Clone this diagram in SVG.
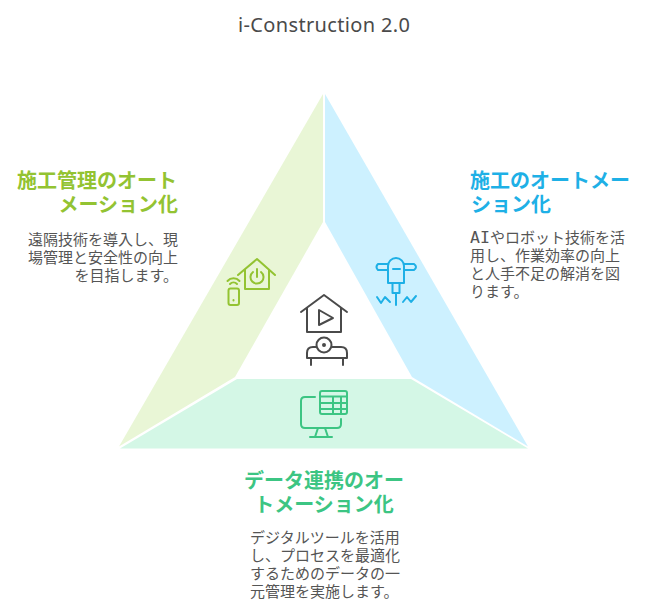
<svg xmlns="http://www.w3.org/2000/svg" width="648" height="612" viewBox="0 0 648 612">
<style>
text{font-family:"Liberation Sans","Noto Sans CJK JP",sans-serif}
.h{font-size:20px;font-weight:700}
.b{font-size:15px;fill:#555}
.t{font-size:20px;fill:#4a4a4a;font-family:"Noto Sans","DejaVu Sans",sans-serif}
.la{font-family:"DejaVu Sans Mono",monospace;font-size:16.5px}
.i{fill:none;stroke-width:2;stroke-linecap:round;stroke-linejoin:round}
.g{stroke:#93c332}.bl{stroke:#1eb0e6}.gr{stroke:#3cc583}.d{stroke:#4a4a4a}
</style>
<rect width="648" height="612" fill="#fff"/>
<text id="title" class="t" x="238" y="32" textLength="172" lengthAdjust="spacing">i-Construction 2.0</text>
<g id="segment-left">
<polygon points="323,94 323,222 235,377 119,446.500" fill="#e9f6d6"/>
<g class="i g"><path d="M238,275 L257,259 L275,275 M245,270 V289 H269 V270"/><path d="M253,272 A6.500,6.500 0 1 0 261,272 M257,269 V277"/><rect x="228.500" y="288.500" width="10.500" height="16.500" rx="2"/><path d="M233.500,300 v0.500 M230,284 a5,5 0 0 1 7,0 M227.500,281 a8,8 0 0 1 12,0"/></g>
<g class="h" fill="#93c332" text-anchor="end"><text x="177" y="188">施工管理のオート</text><text x="178" y="212">メーション化</text></g>
<g class="b" text-anchor="end"><text x="178" y="245">遠隔技術を導入し、現</text><text x="178" y="263">場管理と安全性の向上</text><text x="178" y="281">を目指します。</text></g>
</g>
<g id="segment-right">
<polygon points="325,94 325,222 412,377 528,446.500" fill="#cdf1ff"/>
<g class="i bl"><path d="M388,270 H378 Q375,267 378,264 H388 M404,264 H414 Q418,267 414,270 H404"/><path d="M388,283 V266 A8,8 0 0 1 404,266 V283 Z M393,269 H400"/><path d="M392.500,283 V293 H399.500 V283 M396,293 V305"/><path d="M377,297 L381,303 L385,297 L390,302 M403,302 L407,297 L411,302 L416,296"/></g>
<g class="h" fill="#1eb0e6"><text x="470" y="188">施工のオートメー</text><text x="471" y="212">ション化</text></g>
<g class="b"><text x="470" y="243"><tspan class="la">AI</tspan>やロボット技術を活</text><text x="470" y="261">用し、作業効率の向上</text><text x="470" y="279">と人手不足の解消を図</text><text x="470" y="297">ります。</text></g>
</g>
<g id="segment-bottom">
<polygon points="120,448.500 237,379 411,379 528,448.500" fill="#d4f7e6"/>
<g class="i gr"><path d="M315,397 H305 Q301,397 301,401 V424 Q301,428 305,428 H337 Q341,428 341,424 V419"/><path d="M318,428 L315,437 M325,428 L328,437 M310,437 H332"/><rect x="320" y="391" width="27" height="23" rx="2"/><path d="M320,396.500 H347 M321,403 H347 M321,409 H347 M333,397 V414 M341,397 V414"/></g>
<g class="h" fill="#3cc583" text-anchor="middle"><text x="324" y="488">データ連携のオー</text><text x="324" y="512">トメーション化</text></g>
<g class="b"><text x="250" y="543">デジタルツールを活用</text><text x="250" y="561">し、プロセスを最適化</text><text x="250" y="579">するためのデータの一</text><text x="250" y="597">元管理を実施します。</text></g>
</g>
<g id="center-icon" class="i d">
<path d="M301,312 L324,295 L347,312 M307,308 V332 H341 V308"/><path d="M319,310 V325 L333,318 Z"/>
<circle cx="324" cy="345" r="7.500"/><circle cx="324" cy="345" r="1" fill="#4a4a4a"/>
<path d="M316,347 H313 Q307,347 307,353 V358 H347 V353 Q347,347 341,347 H332 M311,358 V365 M343,358 V365"/>
</g>
<g id="connectors"/>
</svg>
